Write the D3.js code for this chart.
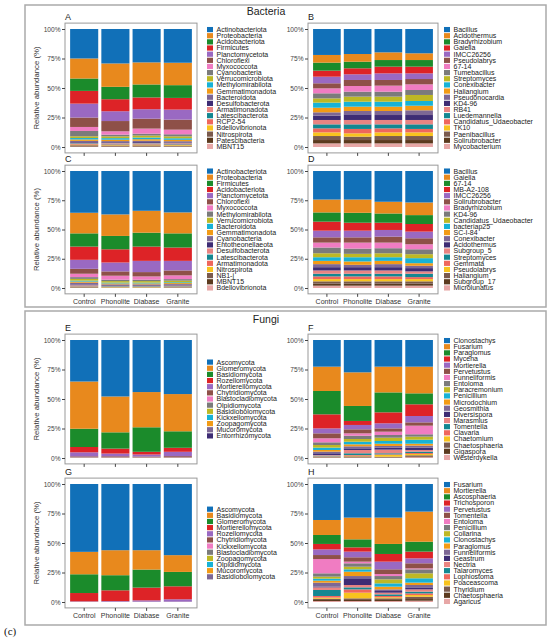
<!DOCTYPE html>
<html>
<head>
<meta charset="utf-8">
<script src="https://cdn.jsdelivr.net/npm/d3@7"></script>
<style>
  body { margin: 0; background: #fff; }
  svg { display: block; font-family: "Liberation Sans", Arial, sans-serif; }
</style>
</head>
<body>
<svg width="550" height="639"></svg>
<script>
// samples (x categories)
var samples = ['Control', 'Phonolite', 'Diabase', 'Granite'];

// colour palette shared by all panels, in legend order
var palette = ['#1170B8', '#E8891D', '#1B8B2B', '#DD2327', '#9A69C2', '#8E5048', '#F07CC2',
  '#7B7B7B', '#BEB824', '#17B2D6', '#F29B16', '#7D6795', '#3E2C74', '#E98482', '#148791',
  '#EF675C', '#F8C31E', '#7A5A4D', '#5B3A1E', '#E7A7A6'];

// A: bacterial phyla, bulk soil
var taxaA = ['Actinobacteriota', 'Proteobacteria', 'Acidobacteriota', 'Firmicutes', 'Planctomycetota',
  'Chloroflexi', 'Myxococcota', 'Cyanobacteria', 'Verrucomicrobiota', 'Methylomirabilota',
  'Gemmatimonadota', 'Bacteroidota', 'Desulfobacterota', 'Armatimonadota', 'Latescibacterota',
  'RCP2-54', 'Bdellovibrionota', 'Nitrospirota', 'Patescibacteria', 'MBNT15'];
var abundA = [ // one row per sample, same order as taxaA (%)
  [25, 17, 10.5, 10.8, 11.8, 8, 3.4, 4.5, 1.5, 1.2, 1.2, 1.0, 0.6, 0.5, 0.6, 0.5, 0.5, 0.6, 0.5, 0.4],
  [29.2, 19.8, 10.5, 10.2, 8.3, 8.7, 2.8, 1.5, 1.5, 1.3, 1.2, 1.0, 0.6, 0.5, 0.6, 0.5, 0.5, 0.4, 0.5, 0.4],
  [28.3, 18.7, 11, 10, 8, 8.4, 4.3, 1.6, 1.7, 1.4, 1.3, 1.1, 0.7, 0.5, 0.6, 0.5, 0.5, 0.5, 0.5, 0.4],
  [28.6, 19, 10.8, 9.9, 8.5, 8.5, 3.9, 1.8, 1.6, 1.3, 1.2, 1.0, 0.6, 0.5, 0.6, 0.5, 0.5, 0.5, 0.4, 0.3]
];

// B: bacterial genera, bulk soil
var taxaB = ['Bacillus', 'Acidothermus', 'Bradyrhizobium', 'Gaiella', 'IMCC26256', 'Pseudolabrys',
  '67-14', 'Tumebacillus', 'Streptomyces', 'Conexibacter', 'Haliangium', 'Pseudonocardia', 'KD4-96',
  'RB41', 'Luedemannella', 'Candidatus_Udaeobacter', 'TK10', 'Paenibacillus', 'Solirubrobacter',
  'Mycobacterium'];
var abundB = [
  [22, 6.5, 6.8, 5.1, 5.6, 4.3, 4.2, 4.3, 3.6, 4.3, 3.9, 2.8, 3.7, 3.7, 3.4, 3.4, 3.1, 3.4, 2.8, 3.1],
  [21.2, 6.5, 5.6, 5.1, 4.8, 5.1, 4.8, 4.2, 4.3, 4.2, 3.7, 2.8, 4.8, 3.7, 3.9, 3.7, 2.8, 2.9, 2.8, 3.1],
  [19.8, 6.5, 5.6, 5.7, 5.6, 4.8, 5.1, 4.2, 4.3, 4.2, 3.7, 3.4, 4.2, 3.7, 3.4, 3.4, 3.1, 3.4, 2.8, 3.1],
  [20.6, 5.7, 5.6, 5.7, 4.8, 4.5, 4.8, 4.2, 5.1, 4.0, 3.9, 4.0, 4.2, 3.7, 3.9, 2.9, 3.1, 3.4, 2.8, 3.1]
];

// C: bacterial phyla, rhizosphere
var taxaC = ['Actinobacteriota', 'Proteobacteria', 'Firmicutes', 'Acidobacteriota', 'Planctomycetota',
  'Chloroflexi', 'Myxococcota', 'Methylomirabilota', 'Verrucomicrobiota', 'Bacteroidota',
  'Gemmatimonadota', 'Cyanobacteria', 'Entotheonellaeota', 'Desulfobacterota', 'Latescibacterota',
  'Armatimonadota', 'Nitrospirota', 'NB1-j', 'MBNT15', 'Bdellovibrionota'];
var abundC = [
  [35.7, 17.6, 11.3, 11.3, 7.7, 4.2, 2.9, 1.5, 1.5, 0.8, 1.0, 1.5, 0.6, 0.5, 0.4, 0.4, 0.3, 0.3, 0.3, 0.2],
  [37.1, 18.4, 11.4, 11.3, 7.6, 3.7, 3.4, 1.2, 1.3, 0.7, 0.8, 0.6, 0.5, 0.4, 0.4, 0.3, 0.3, 0.2, 0.2, 0.2],
  [34, 18.7, 11.9, 12.2, 9.6, 3.7, 2.8, 1.2, 1.3, 0.7, 0.8, 0.6, 0.5, 0.4, 0.4, 0.3, 0.3, 0.2, 0.2, 0.2],
  [35.4, 17.9, 12.1, 11.4, 8.2, 4.2, 3.2, 1.3, 1.4, 0.7, 0.8, 0.7, 0.5, 0.4, 0.4, 0.3, 0.3, 0.3, 0.2, 0.3]
];

// D: bacterial genera, rhizosphere
var taxaD = ['Bacillus', 'Gaiella', '67-14', 'MB-A2-108', 'IMCC26256', 'Solirubrobacter',
  'Bradyrhizobium', 'KD4-96', 'Candidatus_Udaeobacter', 'bacteriap25', 'SC-I-84', 'Conexibacter',
  'Acidothermus', 'Subgroup_5', 'Streptomyces', 'Gemmata', 'Pseudolabrys', 'Haliangium',
  'Subgroup_17', 'Microlunatus'];
var abundD = [
  [24.4, 11, 7.9, 7.7, 5.7, 4.5, 4.2, 4.9, 3.4, 3.1, 2.8, 2.6, 2.8, 2.8, 2.3, 2.3, 1.9, 2.0, 1.7, 2.0],
  [24.4, 11.3, 8.5, 6.8, 5.7, 4.5, 5.1, 4.5, 2.9, 3.6, 2.9, 2.0, 2.8, 2.8, 2.3, 2.3, 1.9, 2.0, 1.7, 2.0],
  [26.3, 10, 7.9, 6.2, 5.7, 5.1, 4.8, 4.3, 3.4, 3.1, 2.8, 2.6, 2.8, 2.8, 2.3, 2.3, 1.9, 2.0, 1.7, 2.0],
  [26.9, 10.8, 7.6, 6.5, 5.7, 5.1, 4.3, 4.2, 3.4, 4.3, 2.2, 2.0, 2.8, 2.0, 2.9, 1.7, 1.9, 2.0, 1.7, 2.0]
];

// E: fungal phyla, bulk soil
var taxaE = ['Ascomycota', 'Glomeromycota', 'Basidiomycota', 'Rozellomycota', 'Mortierellomycota',
  'Chytridiomycota', 'Blastocladiomycota', 'Olpidiomycota', 'Basidiobolomycota', 'Kickxellomycota',
  'Zoopagomycota', 'Mucoromycota', 'Entorrhizomycota'];
var abundE = [
  [35.2, 40, 15.5, 4.5, 3.4, 0.8, 0.2, 0.1, 0.1, 0.1, 0.05, 0.05, 0.02],
  [47.9, 30.4, 13.8, 4.2, 2.3, 0.9, 0.2, 0.1, 0.1, 0.05, 0.05, 0.05, 0.02],
  [44.2, 29.9, 20.8, 2.3, 1.7, 0.7, 0.2, 0.1, 0.1, 0.05, 0.05, 0.05, 0.02],
  [45.9, 31.6, 14, 3.4, 3.7, 1.0, 0.2, 0.1, 0.1, 0.05, 0.05, 0.05, 0.02]
];

// F: fungal genera, bulk soil
var taxaF = ['Clonostachys', 'Fusarium', 'Paraglomus', 'Mycena', 'Mortierella', 'Pervetustus',
  'Funneliformis', 'Entoloma', 'Paracremonium', 'Penicillium', 'Microdochium', 'Geosmithia',
  'Diversispora', 'Marasmius', 'Tomentella', 'Clavaria', 'Chaetomium', 'Chaetosphaeria',
  'Gigaspora', 'Westerdykella'];
var abundF = [
  [22.6, 20.6, 19.8, 11.9, 4.2, 4.2, 3.4, 2.3, 2.2, 2.0, 1.4, 1.4, 1.5, 0.5, 0.6, 0.3, 0.3, 0.3, 0.2, 0.3],
  [27.4, 28.5, 12.7, 3.4, 3.7, 3.4, 2.0, 2.8, 2.3, 2.2, 1.7, 1.7, 1.4, 2.8, 1.5, 0.6, 0.5, 0.5, 0.4, 0.5],
  [22.6, 21.8, 16.9, 9.3, 4.3, 2.8, 2.8, 2.3, 2.8, 2.3, 1.9, 1.4, 1.7, 3.1, 0.9, 0.5, 1.5, 0.4, 0.4, 0.3],
  [22.6, 22.6, 9.3, 9.9, 5.4, 2.8, 7.3, 2.0, 2.6, 3.4, 1.6, 1.7, 2.0, 1.4, 1.2, 0.8, 1.1, 0.9, 0.7, 0.7]
];

// G: fungal phyla, rhizosphere
var taxaG = ['Ascomycota', 'Basidiomycota', 'Glomeromycota', 'Mortierellomycota', 'Rozellomycota',
  'Chytridiomycota', 'Kickxellomycota', 'Blastocladiomycota', 'Zoopagomycota', 'Olpidiomycota',
  'Mucoromycota', 'Basidiobolomycota'];
var abundG = [
  [57.5, 19, 15.9, 7.0, 0.3, 0.1, 0.05, 0.05, 0.03, 0.03, 0.02, 0.02],
  [56.1, 21.2, 12.8, 9.1, 0.5, 0.1, 0.05, 0.05, 0.03, 0.03, 0.02, 0.02],
  [56.1, 16.4, 15.3, 10.8, 1.1, 0.1, 0.05, 0.05, 0.03, 0.03, 0.02, 0.02],
  [60.3, 14.2, 12.2, 11.0, 2.0, 0.1, 0.05, 0.05, 0.03, 0.03, 0.02, 0.02]
];

// H: fungal genera, rhizosphere
var taxaH = ['Fusarium', 'Mortierella', 'Ascosphaeria', 'Trichosporon', 'Pervetustus', 'Tomentella',
  'Entoloma', 'Penicillium', 'Collarina', 'Clonostachys', 'Paraglomus', 'Funneliformis', 'Geastrum',
  'Nectria', 'Talaromyces', 'Lophiostoma', 'Poaceascoma', 'Thyridium', 'Chaetosphaeria', 'Agaricus'];
var abundH = [
  [30.5, 12.7, 7.6, 4.6, 4.8, 3.4, 12.1, 2.8, 1.7, 1.7, 1.7, 3.4, 0.6, 2.2, 5.1, 1.4, 0.9, 1.1, 0.9, 0.8],
  [28.5, 18.4, 6.8, 3.6, 4.8, 3.7, 1.4, 2.9, 2.2, 2.0, 3.7, 1.9, 5.7, 2.0, 1.7, 2.8, 4.8, 1.4, 0.9, 0.8],
  [28.5, 22.3, 8.5, 6.5, 6.5, 4.0, 1.7, 2.8, 3.4, 2.8, 2.3, 1.4, 1.4, 1.4, 1.4, 1.1, 0.9, 1.4, 0.9, 0.8],
  [23.4, 25.5, 8.4, 5.7, 4.2, 4.3, 0.8, 3.4, 4.2, 3.7, 2.0, 2.0, 1.7, 1.9, 1.5, 1.4, 1.4, 2.0, 1.4, 1.1]
];

var yTicks = [0, 0.25, 0.5, 0.75, 1];

var svg = d3.select('svg');

// outer frames + group titles
svg.append('rect').attr('x', 25).attr('y', 5).attr('width', 521).attr('height', 302)
  .attr('fill', 'none').attr('stroke', '#aaa').attr('stroke-width', 1.5);
svg.append('rect').attr('x', 25).attr('y', 311).attr('width', 521).attr('height', 314)
  .attr('fill', 'none').attr('stroke', '#aaa').attr('stroke-width', 1.5);
svg.append('text').attr('x', 266).attr('y', 15).attr('text-anchor', 'middle')
  .attr('font-size', 10.5).attr('fill', '#222').text('Bacteria');
svg.append('text').attr('x', 266).attr('y', 323).attr('text-anchor', 'middle')
  .attr('font-size', 10.5).attr('fill', '#222').text('Fungi');
svg.append('text').attr('x', 4).attr('y', 635)
  .style('font-family', '"Liberation Serif", "DejaVu Serif", serif')
  .attr('font-size', 11).attr('fill', '#111').text('(c)');

var cols = [
  { x0: 65, x1: 197, legX: 207 },
  { x0: 308, x1: 438, legX: 444 }
];

var panels = [
  { tag: 'A', taxa: taxaA, abund: abundA, col: 0, top: 29, bottom: 147, labels: false },
  { tag: 'B', taxa: taxaB, abund: abundB, col: 1, top: 29, bottom: 147, labels: false },
  { tag: 'C', taxa: taxaC, abund: abundC, col: 0, top: 171, bottom: 288, labels: true },
  { tag: 'D', taxa: taxaD, abund: abundD, col: 1, top: 171, bottom: 288, labels: true },
  { tag: 'E', taxa: taxaE, abund: abundE, col: 0, top: 340, bottom: 458, labels: false },
  { tag: 'F', taxa: taxaF, abund: abundF, col: 1, top: 340, bottom: 458, labels: false },
  { tag: 'G', taxa: taxaG, abund: abundG, col: 0, top: 484, bottom: 602, labels: true },
  { tag: 'H', taxa: taxaH, abund: abundH, col: 1, top: 484, bottom: 602, labels: true }
];

panels.forEach(drawPanel);

function drawPanel(p) {
  var c = cols[p.col];
  var g = svg.append('g');

  var y = d3.scaleLinear().domain([0, 1]).range([p.bottom, p.top]);
  var pad = (p.bottom - p.top) * 0.05;
  var boxTop = p.top - pad, boxBot = p.bottom + pad;

  var x = d3.scaleBand().domain(samples).range([c.x0 + 2, c.x1 - 2]).padding(0.1);
  var color = d3.scaleOrdinal().domain(p.taxa).range(palette);

  // rows for d3.stack; first taxon ends up on top of the bar
  var rows = samples.map(function(s, i) {
    var r = { sample: s };
    p.taxa.forEach(function(t, j) { r[t] = p.abund[i][j]; });
    return r;
  });
  var series = d3.stack()
    .keys(p.taxa.slice().reverse())
    .offset(d3.stackOffsetExpand)(rows);

  // panel box
  g.append('rect').attr('x', c.x0).attr('y', boxTop)
    .attr('width', c.x1 - c.x0).attr('height', boxBot - boxTop)
    .attr('fill', '#fff').attr('stroke', '#999').attr('stroke-width', 1);

  g.selectAll('g.layer')
    .data(series)
    .join('g')
      .attr('class', 'layer')
      .attr('fill', function(d) { return color(d.key); })
    .selectAll('rect')
    .data(function(d) { return d; })
    .join('rect')
      .attr('x', function(d) { return x(d.data.sample); })
      .attr('y', function(d) { return y(d[1]); })
      .attr('width', x.bandwidth())
      .attr('height', function(d) { return Math.max(0, y(d[0]) - y(d[1])); });

  // y axis
  var yAxis = g.append('g')
    .attr('transform', 'translate(' + c.x0 + ',0)')
    .call(d3.axisLeft(y).tickValues(yTicks).tickSize(3).tickPadding(1.5)
      .tickFormat(d3.format('.0%')));
  yAxis.select('.domain').remove();
  yAxis.selectAll('line').attr('stroke', '#444');
  yAxis.selectAll('text').attr('font-size', 6.6).attr('fill', '#444')
    .style('font-family', '"Liberation Sans", Arial, sans-serif');

  // x axis
  var xAxis = g.append('g')
    .attr('transform', 'translate(0,' + boxBot + ')')
    .call(d3.axisBottom(x).tickSize(3).tickPadding(2.5));
  xAxis.select('.domain').remove();
  xAxis.selectAll('line').attr('stroke', '#444');
  xAxis.selectAll('text').attr('font-size', 7).attr('fill', '#333')
    .style('font-family', '"Liberation Sans", Arial, sans-serif')
    .style('display', p.labels ? null : 'none');

  // y title on the left column only
  if (p.col === 0) {
    var cy = (boxTop + boxBot) / 2;
    g.append('text')
      .attr('transform', 'translate(39,' + cy + ') rotate(-90)')
      .attr('text-anchor', 'middle')
      .attr('font-size', 7.8).attr('fill', '#333')
      .text('Relative abundance (%)');
  }

  // panel letter
  g.append('text').attr('x', c.x0).attr('y', boxTop - 3)
    .attr('font-size', 9).attr('fill', '#222').text(p.tag);

  // legend, centred on the panel
  var step = 6.15;
  var mid = (boxTop + boxBot) / 2;
  var first = mid - step * (p.taxa.length - 1) / 2;
  var leg = g.selectAll('g.key')
    .data(p.taxa)
    .join('g')
      .attr('class', 'key')
      .attr('transform', function(d, i) { return 'translate(' + c.legX + ',' + (first + i * step) + ')'; });
  leg.append('rect')
    .attr('x', 0).attr('y', -2.6).attr('width', 6).attr('height', 5.2)
    .attr('fill', function(d) { return color(d); });
  leg.append('text')
    .attr('x', 9.5).attr('dy', '0.35em')
    .attr('font-size', 7).attr('fill', '#222')
    .text(function(d) { return d; });
}
</script>
</body>
</html>
